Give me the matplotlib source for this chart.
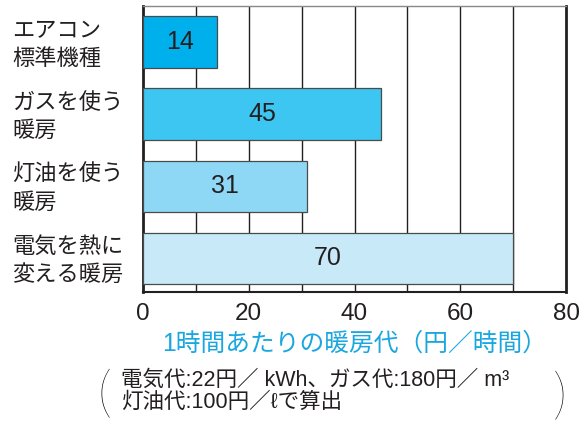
import matplotlib
matplotlib.use("Agg")
from matplotlib import pyplot as plt
from matplotlib.transforms import blended_transform_factory

plt.rcParams['font.family'] = ['Liberation Sans', 'Noto Sans CJK JP', 'DejaVu Sans']

categories = ["エアコン\n標準機種", "ガスを使う\n暖房", "灯油を使う\n暖房", "電気を熱に\n変える暖房"]
values = [14, 45, 31, 70]
colors = ["#00b0ec", "#3dc6f1", "#8ed8f6", "#c8e9f8"]
xticks = [0, 20, 40, 60, 80]

fig = plt.figure(figsize=(5.82, 4.24), dpi=100)
ax = fig.add_axes([143 / 582, 1 - 292 / 424, (566 - 143) / 582, (292 - 6) / 424])

ypos = list(range(len(values)))
ax.barh(ypos, values, height=0.71, color=colors, edgecolor="#4a4a4a", linewidth=0.9, zorder=3)
for y, v in zip(ypos, values):
    ax.text(v / 2, y, str(v), ha="center", va="center", fontsize=18, color="#231f20", zorder=4)

ax.set_xlim(0, 80)
ax.set_ylim(3.47, -0.5)
ax.set_xticks(xticks)
ax.set_xticklabels([str(t) for t in xticks], fontsize=17.5, color="#231f20")
ax.set_yticks([])
ax.tick_params(axis="x", length=0, pad=8)
for g in range(10, 80, 10):
    ax.axvline(g, color="#231f20", linewidth=1.0, zorder=1)

ax.spines["left"].set_linewidth(2.0)
ax.spines["right"].set_linewidth(2.0)
ax.spines["bottom"].set_linewidth(1.5)
ax.spines["top"].set_linewidth(1.0)
ax.spines["top"].set_color("#888888")
for s in ["left", "right", "bottom"]:
    ax.spines[s].set_color("#231f20")

trans = blended_transform_factory(fig.transFigure, ax.transData)
for y, c in zip(ypos, categories):
    ax.text(12 / 582, y + 0.05, c, transform=trans, ha="left", va="center",
            fontsize=16, linespacing=1.45, color="#231f20")

fig.text(355 / 582, 1 - 344 / 424, "1時間あたりの暖房代（円／時間）", ha="center", va="center",
         fontsize=17.8, color="#1aa7e0")

fig.text(121 / 582, 1 - 380 / 424, "電気代:22円／ kWh、ガス代:180円／ m³", ha="left", va="center",
         fontsize=15.5, color="#231f20")
fig.text(121 / 582, 1 - 402 / 424, "灯油代:100円／ℓで算出", ha="left", va="center",
         fontsize=15.5, color="#231f20")
fig.text(104 / 582, 1 - 396 / 424, "(", ha="center", va="center", fontsize=40,
         color="#000000", family="Lato", fontweight="light")
fig.text(560 / 582, 1 - 398 / 424, ")", ha="center", va="center", fontsize=40,
         color="#000000", family="Lato", fontweight="light")

fig.savefig("out.png", dpi=100)
